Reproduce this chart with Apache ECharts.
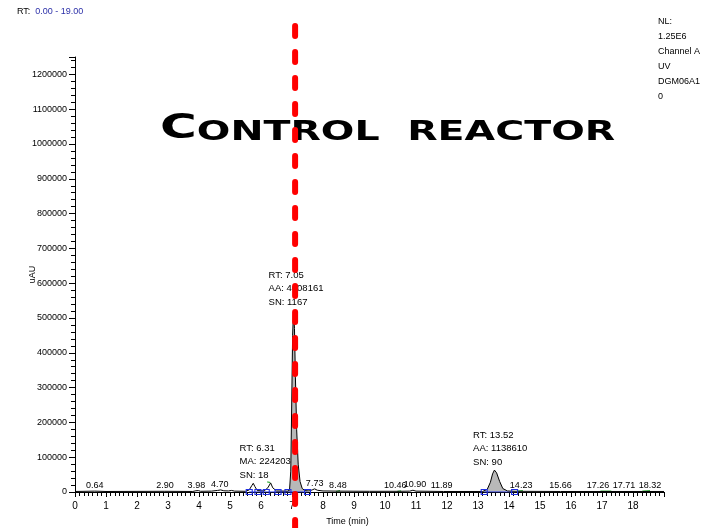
<!DOCTYPE html>
<html>
<head>
<meta charset="utf-8">
<script src="https://cdn.jsdelivr.net/npm/echarts@6/dist/echarts.min.js"></script>
<style>
  html, body { margin: 0; padding: 0; background: #fff; }
  #chart { width: 710px; height: 528px; }
</style>
</head>
<body>
<div id="chart"></div>
<script>
// chromatogram trace (time in min, signal in uAU)
const traceTime = [0.00, 0.64, 1.00, 2.90, 3.80, 3.90, 3.98, 4.05, 4.40, 4.60, 4.70, 4.80, 4.95, 5.05, 5.15, 5.50,
  5.62, 5.70, 5.75, 5.80, 5.88, 6.10, 6.22, 6.31, 6.38, 6.50, 6.85, 6.92, 6.96, 6.99, 7.02, 7.05, 7.08, 7.11, 7.15,
  7.20, 7.26, 7.33, 7.42, 7.55, 7.65, 7.73, 7.82, 8.00, 8.48, 9.50, 10.46, 10.80, 10.90, 11.00, 11.89, 13.15, 13.30,
  13.40, 13.47, 13.53, 13.60, 13.70, 13.80, 13.95, 14.23, 15.66, 17.26, 17.71, 18.32, 19.00];
const traceValue = [1500, 2500, 1500, 2000, 1500, 3500, 4000, 2000, 2500, 4500, 6000, 3500, 3000, 4500, 2500, 2000,
  6000, 18000, 25000, 16000, 4000, 3000, 12000, 26000, 12000, 3000, 2500, 5000, 60000, 250000, 450000, 523000, 470000, 330000, 180000,
  80000, 30000, 10000, 4000, 3000, 6000, 9000, 5000, 3000, 2500, 2000, 2000, 2500, 5000, 2500, 1500, 1500, 8000,
  28000, 52000, 63000, 55000, 30000, 10000, 3000, 2000, 1500, 1500, 1500, 1500, 1500];

// grey integrated areas
const filledRanges = [[6.85, 7.42], [13.15, 13.95]];

// small retention time labels along the baseline
const rtLabelTime = [0.64, 2.90, 3.98, 4.70, 7.73, 8.48, 10.46, 10.90, 11.89, 14.23, 15.66, 17.26, 17.71, 18.32];
const rtLabelValue = [2500, 2000, 4000, 6000, 9000, 2500, 2000, 5000, 1500, 2000, 1500, 1500, 1500, 1500];

// annotated peaks
const noteTime = [6.31, 7.05, 13.52];
const noteValue = [26000, 523000, 63000];
const noteText = ['RT: 6.31\nMA: 224203\nSN: 18', 'RT: 7.05\nAA: 4608161\nSN: 1167', 'RT: 13.52\nAA: 1138610\nSN: 90'];

// baseline markers (blue) and green segments
const baseMarkTime = [5.62, 5.90, 6.17, 6.55, 6.87, 7.50, 13.20, 14.18];
const baseLines = [[5.62, 7.50], [13.20, 14.18]];
const greenLines = [[[6.20, 29000], [6.30, 27000]], [[8.42, 1500], [8.55, 4000]], [[10.40, 2000], [10.52, 3000]],
  [[14.25, 2500], [14.45, 4000]], [[16.95, 2500], [17.30, 2500]], [[18.30, 2500], [18.55, 4000]]];

const markerTime = 7.10;

const xTicks = { min: 0, max: 19, interval: 1 };
const yTicks = { min: 0, max: 1250000, interval: 100000 };

const font = "'Liberation Sans', Arial, sans-serif";

const trace = traceTime.map((t, i) => [t, traceValue[i]]);

const fillSeries = filledRanges.map(r => ({
  type: 'line',
  data: trace.filter(p => p[0] >= r[0] && p[0] <= r[1]),
  symbol: 'none',
  silent: true,
  lineStyle: { width: 0 },
  areaStyle: { color: '#b8b8b8', opacity: 1 },
  z: 1
}));

const baseLineData = [];
baseLines.forEach(s => { baseLineData.push([s[0], 0], [s[1], 0], [s[1], '-']); });
const greenData = [];
greenLines.forEach(s => { greenData.push(s[0], s[1], [s[1][0], '-']); });

// label nudges in px (the instrument software spreads labels apart)
const rtLabelShift = [0, 0, -2, -1, 0, 0, -4, 2, -2, 5, 0, -12, 0, 7];
const noteShift = [-31, -25, -21];

const option = {
  animation: false,
  textStyle: { fontFamily: font },
  title: [
    {
      text: '{k|RT:} {v|0.00 - 19.00}',
      left: 17, top: 3, padding: 0,
      textStyle: { rich: {
        k: { color: '#000', fontSize: 9, fontWeight: 'normal', fontFamily: font },
        v: { color: '#2b2fa8', fontSize: 9, fontWeight: 'normal', fontFamily: font }
      } }
    },
    {
      text: 'NL:\n1.25E6\nChannel A\nUV\nDGM06A1\n0',
      left: 658, top: 14, padding: 0,
      textStyle: { color: '#000', fontSize: 9, lineHeight: 15, fontWeight: 'normal', fontFamily: font }
    }
  ],
  grid: { left: 75, right: 46, top: 57, bottom: 36, outerBoundsMode: 'none' },
  xAxis: {
    type: 'value',
    min: xTicks.min, max: xTicks.max, interval: xTicks.interval,
    name: 'Time (min)', nameLocation: 'middle', nameGap: 25, nameMoveOverlap: false,
    nameTextStyle: { color: '#000', fontSize: 9, fontFamily: font, padding: [0, 44, 0, 0] },
    axisLine: { show: true, onZero: false, lineStyle: { color: '#000', width: 1 } },
    axisTick: { show: true, length: 5, lineStyle: { color: '#000' } },
    minorTick: { show: true, splitNumber: 7, length: 4, lineStyle: { color: '#000' } },
    axisLabel: { color: '#000', fontSize: 10, fontFamily: font, margin: 9, showMaxLabel: false },
    splitLine: { show: false }
  },
  yAxis: {
    type: 'value',
    min: yTicks.min, max: yTicks.max, interval: yTicks.interval,
    name: 'uAU', nameLocation: 'middle', nameGap: 38, nameMoveOverlap: false,
    nameTextStyle: { color: '#000', fontSize: 9, fontFamily: font },
    axisLine: { show: true, lineStyle: { color: '#000', width: 1 } },
    axisTick: { show: true, length: 6, lineStyle: { color: '#000' } },
    minorTick: { show: true, splitNumber: 5, length: 4, lineStyle: { color: '#000' } },
    axisLabel: { color: '#000', fontSize: 9, fontFamily: font, margin: 8, showMaxLabel: false, formatter: v => String(v) },
    splitLine: { show: false }
  },
  series: [
    ...fillSeries,
    {
      type: 'line',
      data: baseLineData,
      symbol: 'none',
      silent: true,
      lineStyle: { color: '#1f2fe0', width: 1.2 },
      z: 2
    },
    {
      type: 'scatter',
      data: baseMarkTime.map(t => [t, 0]),
      symbol: 'rect',
      symbolSize: [6, 5],
      silent: true,
      itemStyle: { color: 'rgba(0,0,0,0)', borderColor: '#1f2fe0', borderWidth: 1, opacity: 1 },
      z: 4
    },
    {
      type: 'line',
      data: greenData,
      symbol: 'none',
      silent: true,
      lineStyle: { color: '#3cb043', width: 1.2 },
      z: 2
    },
    {
      type: 'line',
      data: trace,
      symbol: 'none',
      silent: true,
      lineStyle: { color: '#000', width: 1 },
      z: 3
    },
    {
      type: 'scatter',
      data: rtLabelTime.map((t, i) => ({
        value: [t, rtLabelValue[i]],
        name: t.toFixed(2),
        label: { offset: [rtLabelShift[i], 0] }
      })),
      symbolSize: 0,
      silent: true,
      itemStyle: { opacity: 1 },
      label: { show: true, position: 'top', distance: 1, formatter: '{b}', color: '#000', fontSize: 9, fontFamily: font },
      z: 5
    },
    {
      type: 'scatter',
      data: noteTime.map((t, i) => ({
        value: [t, noteValue[i]],
        name: noteText[i],
        label: { offset: [noteShift[i], 0] }
      })),
      symbolSize: 0,
      silent: true,
      itemStyle: { opacity: 1 },
      label: {
        show: true, position: 'top', distance: 1, align: 'left', formatter: '{b}',
        color: '#000', fontSize: 9.5, lineHeight: 13.5, fontFamily: font
      },
      z: 5
    }
  ]
};

const chart = echarts.init(document.getElementById('chart'));
chart.setOption(option);

// red dashed marker running through the whole picture, plus the heading
const mx = chart.convertToPixel({ xAxisIndex: 0 }, markerTime);
chart.setOption({
  graphic: [
    {
      type: 'line',
      shape: { x1: mx, y1: 26, x2: mx, y2: 528 },
      style: { stroke: '#ff0000', lineWidth: 6, lineDash: [10, 16], lineCap: 'round' },
      z: 100
    },
    {
      type: 'text',
      x: 160, y: 146, scaleX: 1.52,
      style: {
        text: '{a|C}{b|ONTROL  REACTOR}',
        verticalAlign: 'bottom',
        rich: {
          a: { fontSize: 33, fontWeight: 'bold', fontFamily: 'DejaVu Sans', fill: '#000', verticalAlign: 'bottom' },
          b: { fontSize: 26, fontWeight: 'bold', fontFamily: 'DejaVu Sans', fill: '#000', verticalAlign: 'bottom' }
        }
      },
      z: 50
    }
  ]
});
</script>
</body>
</html>
